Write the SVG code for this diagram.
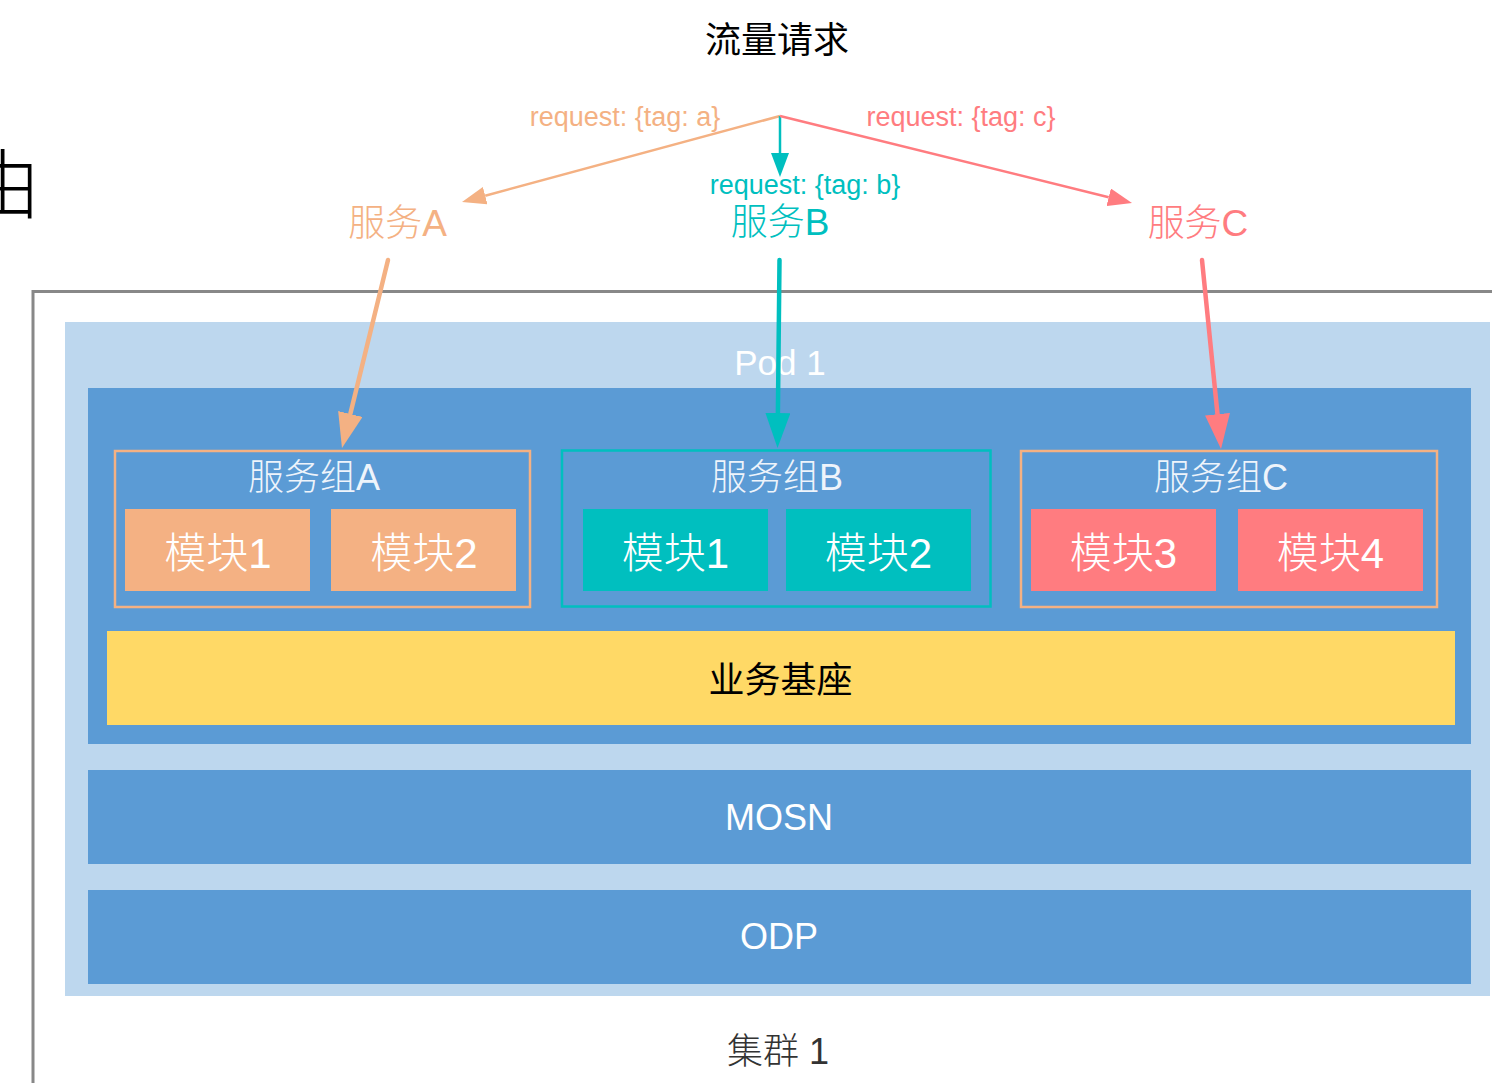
<svg xmlns="http://www.w3.org/2000/svg" width="1492" height="1083" viewBox="0 0 1492 1083">
<defs>
<style>
text{font-family:"Liberation Sans","Noto Sans CJK SC",sans-serif;text-anchor:middle}
.t36{font-size:36px}
.grp{font-size:36px;fill:#EEF4FB;font-weight:300}
.mod{font-size:42px;fill:#FFFFFF;font-weight:300}
.svc{font-size:37px;font-weight:300}
.req{font-size:27px}
.orange{fill:#F4B183}
.teal{fill:#00BFBF}
.red{fill:#FF7C80}
.lnA{stroke:#F4B183;fill:none}
.lnB{stroke:#00BFBF;fill:none}
.lnC{stroke:#FF7C80;fill:none}
.thin{stroke-width:2.5}
.thick{stroke-width:4.5;stroke-linecap:round}
</style>
<marker id="sA" markerUnits="userSpaceOnUse" markerWidth="24" markerHeight="18" refX="0" refY="9" orient="auto"><path d="M0,0 L24,9 L0,18 Z" fill="#F4B183"/></marker>
<marker id="sB" markerUnits="userSpaceOnUse" markerWidth="24" markerHeight="18" refX="0" refY="9" orient="auto"><path d="M0,0 L24,9 L0,18 Z" fill="#00BFBF"/></marker>
<marker id="sC" markerUnits="userSpaceOnUse" markerWidth="24" markerHeight="18" refX="0" refY="9" orient="auto"><path d="M0,0 L24,9 L0,18 Z" fill="#FF7C80"/></marker>
<marker id="bA" markerUnits="userSpaceOnUse" markerWidth="35" markerHeight="25" refX="0" refY="12.5" orient="auto"><path d="M0,0 L35,12.5 L0,25 Z" fill="#F4B183"/></marker>
<marker id="bB" markerUnits="userSpaceOnUse" markerWidth="35" markerHeight="25" refX="0" refY="12.5" orient="auto"><path d="M0,0 L35,12.5 L0,25 Z" fill="#00BFBF"/></marker>
<marker id="bC" markerUnits="userSpaceOnUse" markerWidth="35" markerHeight="25" refX="0" refY="12.5" orient="auto"><path d="M0,0 L35,12.5 L0,25 Z" fill="#FF7C80"/></marker>
</defs>
<rect width="1492" height="1083" fill="#FFFFFF"/>

<g id="stray-glyph"><text x="2.7" y="213" style="font-size:76px;font-family:'Noto Sans CJK SC',sans-serif;font-weight:300" fill="#000">由</text></g>

<g id="title"><text class="t36" x="777" y="53" fill="#000">流量请求</text></g>

<g id="cluster">
<path d="M33,1083 V291.5 H1492" fill="none" stroke="#888888" stroke-width="3"/>
<text class="t36" x="778" y="1064" fill="#333" style="font-weight:300">集群 1</text>
</g>

<g id="pod">
<rect x="65" y="322" width="1425" height="674" fill="#BDD7EE"/>
<text x="780" y="375" style="font-size:35px;font-weight:300" fill="#FFFFFF">Pod 1</text>
</g>

<g id="pod-inner"><rect x="88" y="388" width="1383" height="356" fill="#5B9BD5"/></g>

<g id="group-a">
<rect x="115" y="451" width="415" height="156" fill="none" stroke="#F4B183" stroke-width="2.5"/>
<text class="grp" x="314" y="490">服务组A</text>
</g>
<g id="module-a1"><rect x="125" y="509" width="185" height="82" fill="#F4B183"/><text class="mod" x="218" y="568">模块1</text></g>
<g id="module-a2"><rect x="331" y="509" width="185" height="82" fill="#F4B183"/><text class="mod" x="424" y="568">模块2</text></g>

<g id="group-b">
<rect x="562" y="450.5" width="428.5" height="156" fill="none" stroke="#00BFBF" stroke-width="2.5"/>
<text class="grp" x="777" y="490">服务组B</text>
</g>
<g id="module-b1"><rect x="583" y="509" width="185" height="82" fill="#00BFBF"/><text class="mod" x="675.5" y="568">模块1</text></g>
<g id="module-b2"><rect x="786" y="509" width="185" height="82" fill="#00BFBF"/><text class="mod" x="878.5" y="568">模块2</text></g>

<g id="group-c">
<rect x="1021" y="451" width="416" height="156" fill="none" stroke="#F4B183" stroke-width="2.5"/>
<text class="grp" x="1221" y="490">服务组C</text>
</g>
<g id="module-c3"><rect x="1031" y="509" width="185" height="82" fill="#FF7C80"/><text class="mod" x="1123.5" y="568">模块3</text></g>
<g id="module-c4"><rect x="1238" y="509" width="185" height="82" fill="#FF7C80"/><text class="mod" x="1330.5" y="568">模块4</text></g>

<g id="base"><rect x="107" y="631" width="1348" height="94" fill="#FFD966"/><text class="t36" x="780.5" y="693" fill="#000">业务基座</text></g>
<g id="mosn"><rect x="88" y="770" width="1383" height="94" fill="#5B9BD5"/><text class="t36" x="779" y="830" fill="#FFFFFF" style="font-weight:300">MOSN</text></g>
<g id="odp"><rect x="88" y="890" width="1383" height="94" fill="#5B9BD5"/><text class="t36" x="779" y="949" fill="#FFFFFF" style="font-weight:300">ODP</text></g>

<g id="service-a"><text class="svc orange" x="397.5" y="236">服务A</text></g>
<g id="service-b"><text class="svc teal" x="780" y="235">服务B</text></g>
<g id="service-c"><text class="svc red" x="1198" y="236">服务C</text></g>

<g id="connectors">
<line class="lnA thin" x1="780" y1="116" x2="485.2" y2="195.7" marker-end="url(#sA)"/>
<line class="lnB thin" x1="780" y1="116" x2="780" y2="153" marker-end="url(#sB)"/>
<line class="lnC thin" x1="780" y1="116" x2="1108.7" y2="197.2" marker-end="url(#sC)"/>
<text class="req orange" x="625" y="126">request: {tag: a}</text>
<text class="req teal" x="805" y="194">request: {tag: b}</text>
<text class="req red" x="961" y="126">request: {tag: c}</text>
<line class="lnA thick" x1="388" y1="260" x2="350.3" y2="414" marker-end="url(#bA)"/>
<line class="lnB thick" x1="779.5" y1="260" x2="777.9" y2="413" marker-end="url(#bB)"/>
<line class="lnC thick" x1="1202" y1="260" x2="1217.5" y2="414.2" marker-end="url(#bC)"/>
</g>
</svg>
